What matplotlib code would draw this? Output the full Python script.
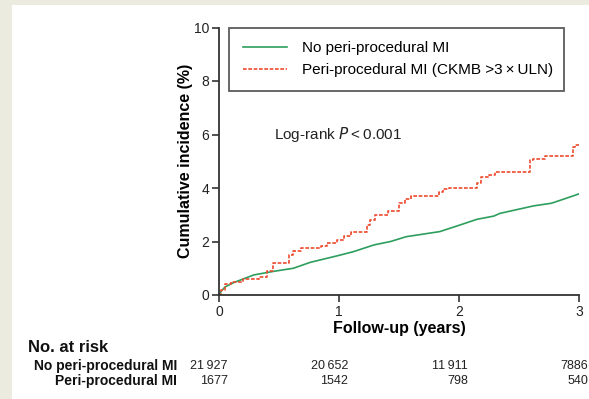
import matplotlib
matplotlib.use("Agg")
import matplotlib.pyplot as plt
from matplotlib.patches import Rectangle

plt.rcParams['font.family'] = ['Liberation Sans', 'DejaVu Sans']

# No peri-procedural MI (green, solid)
no_mi_t = [0, 0.02, 0.05, 0.12, 0.29, 0.45, 0.62, 0.76, 0.99, 1.12, 1.29, 1.43, 1.56,
           1.84, 2.01, 2.15, 2.29, 2.34, 2.62, 2.77, 2.87, 3.0]
no_mi_y = [0, 0.15, 0.3, 0.46, 0.75, 0.88, 1.0, 1.22, 1.47, 1.62, 1.87, 2.0, 2.18,
           2.37, 2.62, 2.83, 2.95, 3.05, 3.33, 3.43, 3.58, 3.78]

# Peri-procedural MI (red, dashed step)
mi_t = [0, 0.02, 0.05, 0.1, 0.2, 0.33, 0.4, 0.45, 0.58, 0.62, 0.68, 0.85, 0.9, 0.98,
        1.04, 1.1, 1.23, 1.26, 1.3, 1.41, 1.5, 1.55, 1.6, 1.83, 1.87, 1.92, 2.15, 2.18,
        2.25, 2.3, 2.59, 2.62, 2.72, 2.95, 2.97, 3.0]
mi_y = [0, 0.2, 0.4, 0.5, 0.6, 0.66, 0.9, 1.2, 1.5, 1.65, 1.75, 1.85, 1.95, 2.05,
        2.2, 2.35, 2.6, 2.8, 3.0, 3.15, 3.45, 3.6, 3.7, 3.85, 3.95, 4.0, 4.2, 4.4,
        4.5, 4.6, 5.05, 5.1, 5.2, 5.55, 5.6, 5.6]

labels = ['No peri-procedural MI', 'Peri-procedural MI (CKMB >3\u2009\u00d7\u2009ULN)']
risk_times = [0, 1, 2, 3]
risk_no_mi = ['21\u2009927', '20\u2009652', '11\u2009911', '7886']
risk_mi = ['1677', '1542', '798', '540']
row_labels = ['No peri-procedural MI', 'Peri-procedural MI']

W, H = 589, 399
fig = plt.figure(figsize=(W / 100, H / 100), dpi=100)
fig.patch.set_facecolor('#ecebe0')
fig.patches.append(Rectangle((12 / W, 0), 1, 1 - 5 / H, transform=fig.transFigure,
                             facecolor='white', edgecolor='none', zorder=-10))

ax = fig.add_axes([219 / W, 1 - 295 / H, 360 / W, 267.5 / H])
ax.set_zorder(5)
ax.set_facecolor('none')
ax.plot(no_mi_t, no_mi_y, color='#2e9e5e', lw=1.2, label=labels[0])
ax.plot(mi_t, mi_y, color='#ec4a2c', lw=1.2, ls=(0, (2.2, 1.0)),
        drawstyle='steps-post', label=labels[1])

ax.set_xlim(0, 3)
ax.set_ylim(0, 10)
ax.set_xticks([0, 1, 2, 3])
ax.set_yticks([0, 2, 4, 6, 8, 10])
for s in ['top', 'right']:
    ax.spines[s].set_visible(False)
for s in ['left', 'bottom']:
    ax.spines[s].set_color('#333333')
    ax.spines[s].set_linewidth(1.3)
ax.tick_params(direction='out', length=5, width=1.2, color='#333333',
               labelsize=10, labelcolor='#222222', pad=2)
ax.set_xlabel('Follow-up (years)', fontsize=11.5, fontweight='bold', labelpad=2)
ax.set_ylabel('Cumulative incidence (%)', fontsize=11.5, fontweight='bold', labelpad=0.5)

leg = ax.legend(loc='upper left', bbox_to_anchor=(0.028, 0.774, 0.93, 0.226),
                mode='expand', fontsize=11, frameon=True, fancybox=False,
                handlelength=2.9, handletextpad=1.0, labelspacing=0.5,
                borderpad=0.9, borderaxespad=0)
leg.get_frame().set_edgecolor('#333333')
leg.get_frame().set_linewidth(1.3)

ax.text(0.46, 6.0, 'Log-rank $\\it{P}$\u2009<\u20090.001', fontsize=11, color='#222222',
        va='center', ha='left')

# Number at risk table
fig.text(28 / W, 1 - 348 / H, 'No. at risk', fontsize=12, fontweight='bold',
         va='center', ha='left', color='#111111')
for row_y, lab, vals in [(366, row_labels[0], risk_no_mi), (381, row_labels[1], risk_mi)]:
    fig.text(177 / W, 1 - row_y / H, lab, fontsize=10, fontweight='bold',
             va='center', ha='right', color='#111111')
    for t, v in zip(risk_times, vals):
        xp = ax.transData.transform((t, 0))[0] + 9
        fig.text(xp / W, 1 - row_y / H, v, fontsize=9, va='center', ha='right',
                 color='#222222')

fig.savefig('out.png', dpi=100, facecolor=fig.get_facecolor())
